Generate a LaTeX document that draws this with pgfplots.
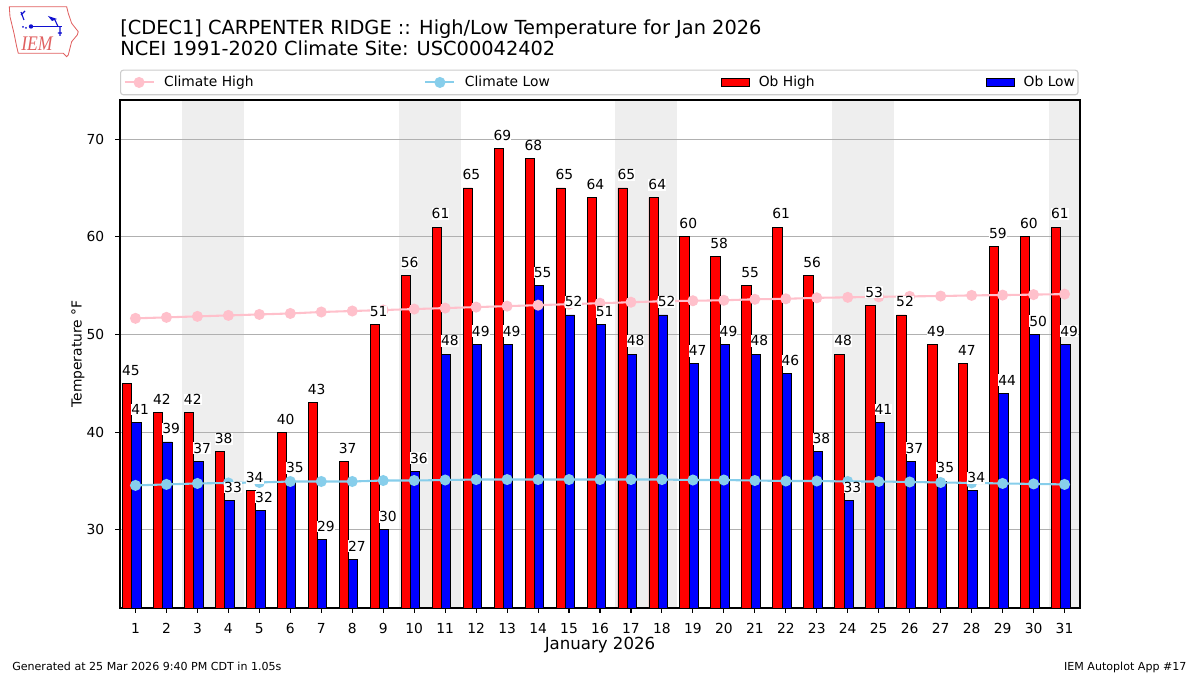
\documentclass[border=0pt]{standalone}
\usepackage{pgfplots}
\pgfplotsset{compat=1.18}
\usepackage{pgfplotstable}
\usepackage{fontspec}
\setmainfont{DejaVu Sans}
\newfontfamily\logofont{Liberation Serif}
\definecolor{chigh}{HTML}{FFC0CB}
\definecolor{clow}{HTML}{87CEEB}
\definecolor{band}{HTML}{EEEEEE}
\definecolor{gridc}{HTML}{B0B0B0}
\definecolor{legc}{HTML}{CCCCCC}
\definecolor{logored}{HTML}{E06060}
\definecolor{logoblue}{HTML}{1010D0}

\pgfplotsset{layers/mylayers/.define layer set={axis background,axis grid,main,axis ticks,axis lines,axis tick labels,axis descriptions,axis foreground}{}}
\pgfplotsset{
  barlegend/.style={legend image code/.code={\draw[sharp corners,##1] (0in,-0.042in) rectangle (0.28in,0.042in);}},
  linelegend/.style={legend image code/.code={\draw[sharp corners,mark repeat=2,mark phase=2,##1] plot coordinates {(0in,0in) (0.145in,0in) (0.29in,0in)};}},
  barlabel/.style={draw=none, mark=none, forget plot, point meta=explicit symbolic,
    nodes near coords,
    nodes near coords style={anchor=south, fill=white, inner xsep=0pt, inner ysep=0.5pt, yshift=0.069in, text=black, font=\fontsize{10}{12}\selectfont}},
}

\pgfplotstableread{
day high low chigh clow
1 45 41 51.65 34.55
2 42 39 51.75 34.65
3 42 37 51.85 34.75
4 38 33 51.95 34.80
5 34 32 52.05 34.85
6 40 35 52.15 34.95
7 43 29 52.30 34.95
8 37 27 52.40 34.95
9 51 30 52.50 35.05
10 56 36 52.60 35.05
11 61 48 52.70 35.10
12 65 49 52.80 35.15
13 69 49 52.90 35.15
14 68 55 53.00 35.15
15 65 52 53.10 35.15
16 64 51 53.20 35.15
17 65 48 53.30 35.15
18 64 52 53.40 35.15
19 60 47 53.45 35.10
20 58 49 53.50 35.10
21 55 48 53.60 35.05
22 61 46 53.65 35.00
23 56 38 53.75 35.00
24 48 33 53.80 34.95
25 53 41 53.85 34.95
26 52 37 53.90 34.90
27 49 35 53.93 34.85
28 47 34 54.00 34.80
29 59 44 54.03 34.75
30 60 50 54.08 34.70
31 61 49 54.13 34.65
}\data

\begin{document}
\begin{tikzpicture}
% logo
\begin{scope}[shift={(0in,6.75in)},x=0.01in,y=-0.01in]
\draw[logored, line width=0.6pt] (9.3,6.7) -- (66.7,6.7) -- (68.3,13.3) -- (71.7,23.3) -- (78.3,31.7) -- (77.3,35) -- (71.7,41.7) -- (70,48.3) -- (68.3,55) -- (66.7,56.7) -- (63.3,53.3) -- (18.3,53.3) -- (16.7,46.7) -- (14,33.3) -- (10,16.7) -- cycle;
\node[logored, font=\logofont\itshape\fontsize{15}{15}\selectfont, xscale=0.85] at (37,43.5) {IEM};
\draw[logoblue, line width=1.2pt] (31,26.5) -- (62,26.5);
\fill[logoblue] (31,26.5) circle (2.2);
\draw[logoblue, line width=0.8pt] (24,20) -- (21,12) (21,15) -- (25,11);
\fill[logoblue] (48,16) -- (57,19) -- (52,21) -- cycle;
\draw[logoblue, line width=0.8pt] (55,20) -- (58,26.5) (60,26.5) -- (60,36) (58,33) -- (62,33);
\fill[logoblue] (23,27) circle (1) (26,28) circle (1);
\end{scope}
% titles
\node[anchor=base west, inner sep=0pt, font=\fontsize{14}{16.8}\selectfont] at (1.2in,6.407in) {[CDEC1] CARPENTER RIDGE :: High/Low Temperature for Jan 2026};
\node[anchor=base west, inner sep=0pt, font=\fontsize{14}{16.8}\selectfont] at (1.2in,6.19in) {NCEI 1991-2020 Climate Site: USC00042402};
% footers
\node[anchor=base west, inner sep=0pt, font=\fontsize{8}{10}\selectfont] at (0.12in,0.05in) {Generated at 25 Mar 2026 9:40 PM CDT in 1.05s};
\node[anchor=base east, inner sep=0pt, font=\fontsize{8}{10}\selectfont] at (11.867in,0.05in) {IEM Autoplot App \#17};
\begin{axis}[
  at={(1.2in,0.67in)}, anchor=south west,
  width=9.6in, height=5.08in, scale only axis,
  set layers=mylayers,
  xmin=0.5, xmax=31.5, ymin=22, ymax=74,
  xtick={1,...,31}, ytick={30,40,50,60,70},
  xtick pos=bottom, ytick pos=left,
  tick align=outside, major tick length=0.049in,
  tick style={black, line width=0.8pt},
  axis line style={line width=0.8pt},
  ymajorgrids, grid style={gridc, line width=0.8pt},
  /pgf/number format/assume math mode=true,
  ticklabel style={font=\fontsize{10}{12}\selectfont},
  xticklabel style={anchor=north, inner sep=0pt, yshift=-0.103in},
  yticklabel style={anchor=east, inner sep=0pt, xshift=-0.107in},
  xlabel={January 2026},
  xlabel style={at={(axis description cs:0.5,0)}, anchor=base, yshift=-0.413in, font=\fontsize{12}{14}\selectfont},
  ylabel={Temperature °F},
  ylabel style={at={(axis description cs:-0.04375,0.5)}, anchor=center, font=\fontsize{10}{12}\selectfont},
  legend columns=4,
  legend style={at={(0,1)}, anchor=south west, yshift=0.047in, draw=legc, line width=0.8pt, rounded corners=2pt,
    inner xsep=0.03in, inner ysep=0.06in, font=\fontsize{10}{12}\selectfont,
    nodes={inner sep=0pt, anchor=west},
    /tikz/every odd column/.append style={column sep=0.095in},
    /tikz/every even column/.append style={column sep=1.708in}},
]
\addlegendimage{chigh, line width=1.5pt, mark=*, mark size=3.2pt, linelegend}
\addlegendimage{clow, line width=1.5pt, mark=*, mark size=3.2pt, linelegend}
\addlegendimage{fill=red, draw=black, line width=0.5pt, barlegend}
\addlegendimage{fill=blue, draw=black, line width=0.5pt, barlegend}
\legend{Climate High, Climate Low, Ob High, Ob Low}
% weekend bands
\addplot[on layer=axis background, fill=band, draw=none, forget plot] coordinates {(2.5,22) (2.5,74) (4.5,74) (4.5,22)} -- cycle;
\addplot[on layer=axis background, fill=band, draw=none, forget plot] coordinates {(9.5,22) (9.5,74) (11.5,74) (11.5,22)} -- cycle;
\addplot[on layer=axis background, fill=band, draw=none, forget plot] coordinates {(16.5,22) (16.5,74) (18.5,74) (18.5,22)} -- cycle;
\addplot[on layer=axis background, fill=band, draw=none, forget plot] coordinates {(23.5,22) (23.5,74) (25.5,74) (25.5,22)} -- cycle;
\addplot[on layer=axis background, fill=band, draw=none, forget plot] coordinates {(30.5,22) (30.5,74) (31.5,74) (31.5,22)} -- cycle;
% bars
\addplot[ybar, bar width=0.3, bar shift=-0.27, fill=red, draw=black, line width=0.6pt, forget plot] table[x=day, y=high] {\data};
\addplot[ybar, bar width=0.3, bar shift=0.03, fill=blue, draw=black, line width=0.6pt, forget plot] table[x=day, y=low] {\data};
% climate lines
\addplot[chigh, line width=1.5pt, mark=*, mark size=3.2pt, forget plot] table[x=day, y=chigh] {\data};
\addplot[clow, line width=1.5pt, mark=*, mark size=3.2pt, forget plot] table[x=day, y=clow] {\data};
% labels
\addplot[barlabel] table[x expr=\thisrow{day}-0.15, y=high, meta=high] {\data};
\addplot[barlabel] table[x expr=\thisrow{day}+0.15, y=low, meta=low] {\data};
\end{axis}
\pgfresetboundingbox
\path (0in,0in) rectangle (12in,6.75in);
\end{tikzpicture}
\end{document}
